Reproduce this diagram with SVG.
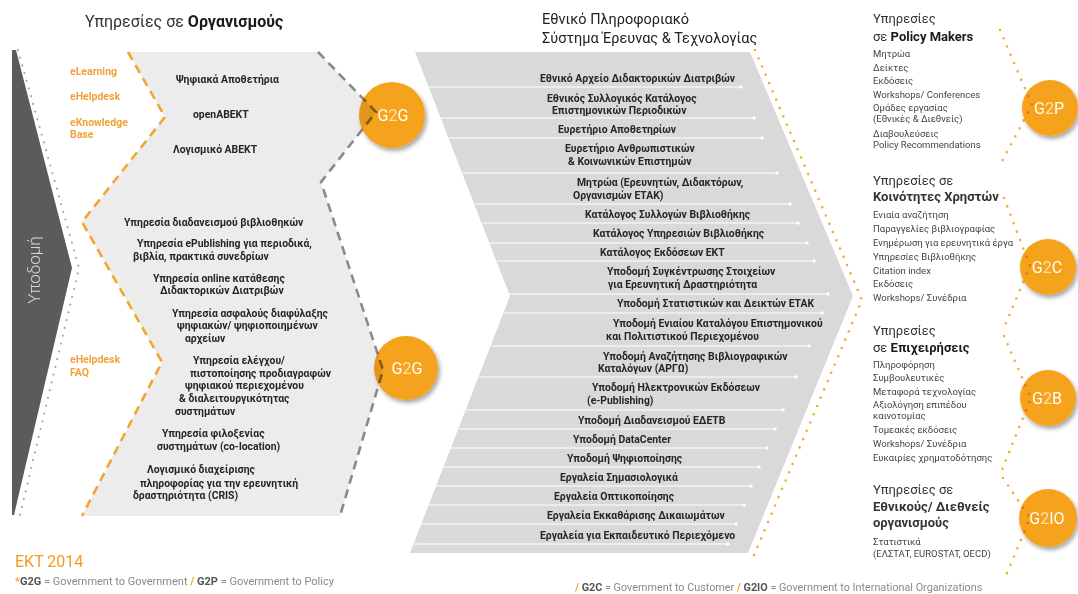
<svg xmlns="http://www.w3.org/2000/svg" width="1078" height="594" viewBox="0 0 1078 594">
<defs>
<style>
text{font-family:Roboto,"Liberation Sans",sans-serif}
.h{font-size:16px;fill:#333}
.b{font-weight:700;fill:#1a1a1a}
.lt{font-size:10.4px;font-weight:700;fill:#262626}
.mt{font-size:10.4px;font-weight:700;fill:#262626}
.or{font-size:10.5px;font-weight:700;fill:#F0A23A}
.rh{font-size:13px;fill:#333}
.ri{font-size:9.5px;fill:#444}
.ct{font-size:16px;fill:#fff;text-anchor:middle}
.two{fill:#FFE1A6}
.sep{stroke:#fff;stroke-width:1}
.dot{fill:#fff}
.gd{fill:none;stroke:#8a8a8a;stroke-width:2.6;stroke-dasharray:9 6}
.od{fill:none;stroke:#F4A531;stroke-width:2.6;stroke-dasharray:9 6}
.yd{fill:none;stroke:#F2B124;stroke-width:2.6;stroke-linecap:round;stroke-dasharray:0 9}
.gdots{fill:none;stroke:#a8a8a8;stroke-width:2.2;stroke-linecap:round;stroke-dasharray:0 8}
.circ{fill:#F5A21D;mix-blend-mode:multiply}
.lg{font-size:11px;fill:#8a8a8a}
.lgb{font-weight:700;fill:#555}
.lgo{fill:#F4A531;font-weight:700}
</style>
<filter id="sh" x="-30%" y="-30%" width="160%" height="160%"><feDropShadow dx="2" dy="3" stdDeviation="2" flood-color="#000" flood-opacity="0.35"/></filter>
</defs>
<rect width="1078" height="594" fill="#fff"/>

<g id="infra">
<polygon points="12,50 16,50 72,268 14,515 12,515" fill="#5b5b5b"/>
<text x="36" y="270" transform="rotate(-90 36 270)" text-anchor="middle" dominant-baseline="middle" style="font-size:17px;font-weight:300;fill:#d4d4d4">Υποδομή</text>
<path class="gdots" d="M18,50 L79,268 L20,515"/>
</g>

<g id="org-panel">
<polygon points="128,52 318,52 376,112 321,182 383,370 340,516 82,516 162,362 82,222 165,117" fill="#ececec"/>
<path class="od" d="M128,52 L165,117 L82,222 L162,362 L82,516"/>
<path class="gd" d="M318,52 L376,112 L321,182 L383,370 L340,516"/>
<text class="h" x="85" y="27">Υπηρεσίες σε <tspan class="b">Οργανισμούς</tspan></text>
<text class="or" x="70" y="75">eLearning</text>
<text class="or" x="70" y="100">eHelpdesk</text>
<text class="or" x="70" y="126">eKnowledge</text>
<text class="or" x="70" y="138">Base</text>
<text class="or" x="70" y="363">eHelpdesk</text>
<text class="or" x="70" y="376">FAQ</text>
<text class="lt" x="176" y="83">Ψηφιακά Αποθετήρια</text>
<text class="lt" x="193" y="118">openABEKT</text>
<text class="lt" x="173" y="153">Λογισμικό ΑΒΕΚΤ</text>
<text class="lt" x="124" y="226">Υπηρεσία διαδανεισμού βιβλιοθηκών</text>
<text class="lt" x="137" y="247">Υπηρεσία ePublishing για περιοδικά,</text>
<text class="lt" x="133" y="260">βιβλία, πρακτικά συνεδρίων</text>
<text class="lt" x="153" y="282">Υπηρεσία online κατάθεσης</text>
<text class="lt" x="160" y="294">Διδακτορικών Διατριβών</text>
<text class="lt" x="172" y="317">Υπηρεσία ασφαλούς διαφύλαξης</text>
<text class="lt" x="177" y="329">ψηφιακών/ ψηφιοποιημένων</text>
<text class="lt" x="185" y="342">αρχείων</text>
<text class="lt" x="193" y="364">Υπηρεσία ελέγχου/</text>
<text class="lt" x="190" y="377">πιστοποίησης προδιαγραφών</text>
<text class="lt" x="185" y="389">ψηφιακού περιεχομένου</text>
<text class="lt" x="179" y="402">&amp; διαλειτουργικότητας</text>
<text class="lt" x="175" y="415">συστημάτων</text>
<text class="lt" x="162" y="437">Υπηρεσία φιλοξενίας</text>
<text class="lt" x="157" y="450">συστημάτων (co-location)</text>
<text class="lt" x="147" y="473">Λογισμικό διαχείρισης</text>
<text class="lt" x="140" y="487">πληροφορίας για την ερευνητική</text>
<text class="lt" x="133" y="499">δραστηριότητα (CRIS)</text>
</g>

<g id="g2g-top">
<circle class="circ" cx="392" cy="115" r="33" filter="url(#sh)"/>
<text class="ct" x="393" y="121">G<tspan class="two">2</tspan>G</text>
</g>
<g id="g2g-bottom">
<circle class="circ" cx="406" cy="368" r="32" filter="url(#sh)"/>
<text class="ct" x="407" y="374">G<tspan class="two">2</tspan>G</text>
</g>

<g id="national-system">
<polygon points="415,52 750,52 853,296 748,553 410,553 510,296" fill="#d9d9d9"/>
<text x="542" y="24" style="font-size:14.5px;fill:#222">Εθνικό Πληροφοριακό</text>
<text x="542" y="43" style="font-size:14.5px;fill:#222">Σύστημα Έρευνας &amp; Τεχνολογίας</text>
<g id="separators">
<line class="sep" x1="429" y1="87" x2="741" y2="87"/><circle class="dot" cx="741" cy="87" r="1.8"/>
<line class="sep" x1="441" y1="118" x2="754" y2="118"/><circle class="dot" cx="754" cy="118" r="1.8"/>
<line class="sep" x1="449" y1="138" x2="762" y2="138"/><circle class="dot" cx="762" cy="138" r="1.8"/>
<line class="sep" x1="462" y1="173" x2="777" y2="173"/><circle class="dot" cx="777" cy="173" r="1.8"/>
<line class="sep" x1="474" y1="204" x2="790" y2="204"/><circle class="dot" cx="790" cy="204" r="1.8"/>
<line class="sep" x1="482" y1="223" x2="798" y2="223"/><circle class="dot" cx="798" cy="223" r="1.8"/>
<line class="sep" x1="490" y1="243" x2="807" y2="243"/><circle class="dot" cx="807" cy="243" r="1.8"/>
<line class="sep" x1="497" y1="261" x2="814" y2="261"/><circle class="dot" cx="814" cy="261" r="1.8"/>
<line class="sep" x1="509" y1="294" x2="828" y2="294"/><circle class="dot" cx="828" cy="294" r="1.8"/>
<line class="sep" x1="504" y1="313" x2="822" y2="313"/><circle class="dot" cx="822" cy="313" r="1.8"/>
<line class="sep" x1="491" y1="346" x2="809" y2="346"/><circle class="dot" cx="809" cy="346" r="1.8"/>
<line class="sep" x1="479" y1="377" x2="796" y2="377"/><circle class="dot" cx="796" cy="377" r="1.8"/>
<line class="sep" x1="466" y1="410" x2="783" y2="410"/><circle class="dot" cx="783" cy="410" r="1.8"/>
<line class="sep" x1="459" y1="429" x2="775" y2="429"/><circle class="dot" cx="775" cy="429" r="1.8"/>
<line class="sep" x1="451" y1="448" x2="767" y2="448"/><circle class="dot" cx="767" cy="448" r="1.8"/>
<line class="sep" x1="444" y1="467" x2="759" y2="467"/><circle class="dot" cx="759" cy="467" r="1.8"/>
<line class="sep" x1="436" y1="486" x2="751" y2="486"/><circle class="dot" cx="751" cy="486" r="1.8"/>
<line class="sep" x1="429" y1="505" x2="744" y2="505"/><circle class="dot" cx="744" cy="505" r="1.8"/>
<line class="sep" x1="422" y1="524" x2="736" y2="524"/><circle class="dot" cx="736" cy="524" r="1.8"/>
<line class="sep" x1="414" y1="544" x2="728" y2="544"/><circle class="dot" cx="728" cy="544" r="1.8"/>
</g>
<text class="mt" x="540" y="82">Εθνικό Αρχείο Διδακτορικών Διατριβών</text>
<text class="mt" x="547" y="102">Εθνικός Συλλογικός Κατάλογος</text>
<text class="mt" x="552" y="114">Επιστημονικών Περιοδικών</text>
<text class="mt" x="558" y="133">Ευρετήριο Αποθετηρίων</text>
<text class="mt" x="565" y="152">Ευρετήριο Ανθρωπιστικών</text>
<text class="mt" x="568" y="165">&amp; Κοινωνικών Επιστημών</text>
<text class="mt" x="577" y="186">Μητρώα (Ερευνητών, Διδακτόρων,</text>
<text class="mt" x="573" y="199">Οργανισμών ΕΤΑΚ)</text>
<text class="mt" x="585" y="218">Κατάλογος Συλλογών Βιβλιοθήκης</text>
<text class="mt" x="593" y="237">Κατάλογος Υπηρεσιών Βιβλιοθήκης</text>
<text class="mt" x="600" y="256">Κατάλογος Εκδόσεων ΕΚΤ</text>
<text class="mt" x="607" y="275">Υποδομή Συγκέντρωσης Στοιχείων</text>
<text class="mt" x="608" y="288">για Ερευνητική Δραστηριότητα</text>
<text class="mt" x="617" y="307">Υποδομή Στατιστικών και Δεικτών ΕΤΑΚ</text>
<text class="mt" x="613" y="327">Υποδομή Ενιαίου Καταλόγου Επιστημονικού</text>
<text class="mt" x="606" y="340">και Πολιτιστικού Περιεχομένου</text>
<text class="mt" x="603" y="360">Υποδομή Αναζήτησης Βιβλιογραφικών</text>
<text class="mt" x="598" y="372">Καταλόγων (ΑΡΓΩ)</text>
<text class="mt" x="592" y="391">Υποδομή Ηλεκτρονικών Εκδόσεων</text>
<text class="mt" x="587" y="404">(e-Publishing)</text>
<text class="mt" x="578" y="424">Υποδομή Διαδανεισμού ΕΔΕΤΒ</text>
<text class="mt" x="573" y="443">Υποδομή DataCenter</text>
<text class="mt" x="567" y="462">Υποδομή Ψηφιοποίησης</text>
<text class="mt" x="560" y="481">Εργαλεία Σημασιολογικά</text>
<text class="mt" x="554" y="500">Εργαλεία Οπτικοποίησης</text>
<text class="mt" x="547" y="519">Εργαλεία Εκκαθάρισης Δικαιωμάτων</text>
<text class="mt" x="540" y="539">Εργαλεία για Εκπαιδευτικό Περιεχόμενο</text>
</g>

<g id="connectors">
<path class="yd" d="M755,50 L862,300 L752,560"/>
<path class="yd" d="M1000,30 L1032,105 L1000,165"/>
<path class="yd" d="M1004,198 L1030,266 L1003,330"/>
<path class="yd" d="M1004,336 L1031,398 L1002,470"/>
<path class="yd" d="M1003,478 L1030,518 L1005,578"/>
</g>

<g id="policy-makers">
<text class="rh" x="873" y="23">Υπηρεσίες</text>
<text class="rh" x="873" y="41">σε <tspan class="b">Policy Makers</tspan></text>
<text class="ri" x="873" y="57">Μητρώα</text>
<text class="ri" x="873" y="71">Δείκτες</text>
<text class="ri" x="873" y="84">Εκδόσεις</text>
<text class="ri" x="873" y="98">Workshops/ Conferences</text>
<text class="ri" x="873" y="111">Ομάδες εργασίας</text>
<text class="ri" x="873" y="122">(Εθνικές &amp; Διεθνείς)</text>
<text class="ri" x="873" y="137">Διαβουλεύσεις</text>
<text class="ri" x="873" y="148">Policy Recommendations</text>
<circle class="circ" cx="1050" cy="108" r="28" filter="url(#sh)"/>
<text class="ct" x="1049" y="114">G<tspan class="two">2</tspan>P</text>
</g>

<g id="communities">
<text class="rh" x="873" y="185">Υπηρεσίες σε</text>
<text class="rh b" x="873" y="201">Κοινότητες Χρηστών</text>
<text class="ri" x="873" y="218">Ενιαία αναζήτηση</text>
<text class="ri" x="873" y="232">Παραγγελίες βιβλιογραφίας</text>
<text class="ri" x="873" y="246">Ενημέρωση για ερευνητικά έργα</text>
<text class="ri" x="873" y="260">Υπηρεσίες Βιβλιοθήκης</text>
<text class="ri" x="873" y="274">Citation index</text>
<text class="ri" x="873" y="287">Εκδόσεις</text>
<text class="ri" x="873" y="301">Workshops/ Συνέδρια</text>
<circle class="circ" cx="1048" cy="267" r="28" filter="url(#sh)"/>
<text class="ct" x="1047" y="273">G<tspan class="two">2</tspan>C</text>
</g>

<g id="business">
<text class="rh" x="873" y="335">Υπηρεσίες</text>
<text class="rh" x="873" y="352">σε <tspan class="b">Επιχειρήσεις</tspan></text>
<text class="ri" x="873" y="368">Πληροφόρηση</text>
<text class="ri" x="873" y="381">Συμβουλευτικές</text>
<text class="ri" x="873" y="395">Μεταφορά τεχνολογίας</text>
<text class="ri" x="873" y="408">Αξιολόγηση επιπέδου</text>
<text class="ri" x="873" y="419">καινοτομίας</text>
<text class="ri" x="873" y="433">Τομεακές εκδόσεις</text>
<text class="ri" x="873" y="447">Workshops/ Συνέδρια</text>
<text class="ri" x="873" y="461">Ευκαιρίες χρηματοδότησης</text>
<circle class="circ" cx="1048" cy="398" r="28" filter="url(#sh)"/>
<text class="ct" x="1047" y="404">G<tspan class="two">2</tspan>B</text>
</g>

<g id="international">
<text class="rh" x="873" y="494">Υπηρεσίες σε</text>
<text class="rh b" x="873" y="511">Εθνικούς/ Διεθνείς</text>
<text class="rh b" x="873" y="527">οργανισμούς</text>
<text class="ri" x="873" y="545">Στατιστικά</text>
<text class="ri" x="873" y="557">(ΕΛΣΤΑΤ, EUROSTAT, OECD)</text>
<circle class="circ" cx="1048" cy="518" r="29" filter="url(#sh)"/>
<text class="ct" x="1047" y="524">G<tspan class="two">2</tspan>IO</text>
</g>

<g id="legend">
<text x="15" y="567" style="font-size:16px;fill:#F19B1F">ΕΚΤ 2014</text>
<text class="lg" x="15" y="585"><tspan class="lgo">*</tspan><tspan class="lgb">G2G</tspan> = Government to Government <tspan class="lgo">/</tspan> <tspan class="lgb">G2P</tspan> = Government to Policy</text>
<text class="lg" x="575" y="591" style="font-size:10.8px"><tspan class="lgo">/</tspan> <tspan class="lgb">G2C</tspan> = Government to Customer <tspan class="lgo">/</tspan> <tspan class="lgb">G2IO</tspan> = Government to International Organizations</text>
</g>
</svg>
